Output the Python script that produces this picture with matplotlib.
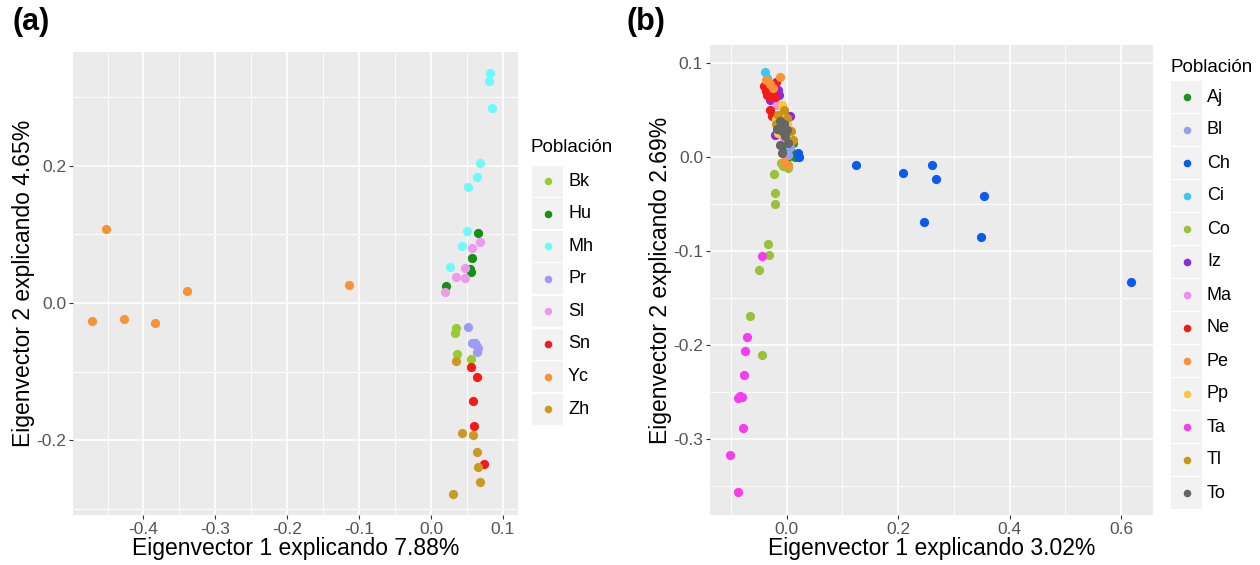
import numpy as np
import matplotlib.pyplot as plt
from matplotlib.patches import Rectangle
from matplotlib.ticker import MultipleLocator

plt.rcParams['font.family'] = ['Liberation Sans', 'DejaVu Sans']

# panel (a)
a_pops = ["Bk", "Hu", "Mh", "Pr", "Sl", "Sn", "Yc", "Zh"]
a_colors = ["#99CC33", "#168F16", "#6FFAFA", "#9C9CF7", "#EE99EE", "#F41A1A", "#FA9338", "#C99A24"]
a_x = [
    [0.035, 0.0328, 0.0356, 0.055],
    [0.0655, 0.0568, 0.054, 0.0558, 0.0212],
    [0.0827, 0.0803, 0.0849, 0.0675, 0.0633, 0.0517, 0.0499, 0.0425, 0.0259],
    [0.0517, 0.0568, 0.0605, 0.0627, 0.0651, 0.0641],
    [0.0688, 0.0568, 0.0467, 0.035, 0.0467, 0.0198],
    [0.0558, 0.0633, 0.0582, 0.0596, 0.0744],
    [-0.4515, -0.339, -0.471, -0.4266, -0.3837, -0.1136],
    [0.0346, 0.0434, 0.0582, 0.0633, 0.0655, 0.0679, 0.0305],
]
a_y = [
    [-0.037, -0.044, -0.0745, -0.0818],
    [0.1026, 0.0657, 0.049, 0.0457, 0.0248],
    [0.335, 0.324, 0.285, 0.204, 0.1835, 0.169, 0.105, 0.083, 0.052],
    [-0.0355, -0.058, -0.0588, -0.0613, -0.0661, -0.0711],
    [0.0895, 0.0799, 0.0507, 0.0384, 0.036, 0.0156],
    [-0.0939, -0.1076, -0.1435, -0.1796, -0.234],
    [0.108, 0.0175, -0.026, -0.023, -0.029, 0.026],
    [-0.0847, -0.190, -0.1917, -0.2175, -0.2394, -0.261, -0.279],
]

# panel (b)
b_pops = ["Aj", "Bl", "Ch", "Ci", "Co", "Iz", "Ma", "Ne", "Pe", "Pp", "Ta", "Tl", "To"]
b_colors = ["#1A941A", "#9C9CF7", "#0A5AF0", "#3CC8F5", "#99C23A", "#8A2BE2", "#F08CF0",
            "#F41A1A", "#FA9338", "#FAC83C", "#F53CF0", "#C99614", "#666666"]
b_x = [
    [0.012, 0.0, 0.015, -0.005, 0.008],
    [0.003, -0.01, 0.005],
    [0.124, 0.208, 0.261, 0.268, 0.3545, 0.247, 0.3485, 0.617, 0.021, 0.022],
    [-0.039, -0.035],
    [-0.022, -0.0215, -0.0204, -0.0335, -0.0312, -0.0491, -0.0658, -0.0437, -0.006, -0.010, 0.002],
    [-0.015, -0.013, 0.005, -0.021, -0.03],
    [-0.018, -0.025, -0.005],
    [-0.041, -0.033, -0.027, -0.024, -0.036, -0.030, -0.021, -0.030, -0.027, -0.038, -0.02, -0.015],
    [-0.012, -0.037, -0.025, 0.003, -0.005, -0.03],
    [-0.009, -0.015, -0.02, 0.0],
    [-0.0448, -0.0707, -0.0753, -0.0766, -0.0796, -0.0873, -0.0789, -0.1017, -0.0874, -0.083],
    [-0.015, 0.0, 0.012, -0.005, -0.02, 0.008],
    [-0.012, -0.006, -0.018, -0.009, 0.0, -0.003, -0.012, -0.009, -0.005, 0.003],
]
b_y = [
    [0.015, -0.001, 0.0, 0.01, 0.005],
    [0.002, 0.03, 0.01],
    [-0.0085, -0.0174, -0.0089, -0.0231, -0.0418, -0.0688, -0.0848, -0.1333, 0.004, 0.0],
    [0.090, 0.084],
    [-0.018, -0.038, -0.0497, -0.0926, -0.1046, -0.1205, -0.1688, -0.2103, -0.0093, -0.006, -0.012],
    [0.071, 0.066, 0.044, 0.023, 0.06],
    [0.055, 0.045, 0.02],
    [0.075, 0.073, 0.075, 0.0695, 0.066, 0.064, 0.064, 0.05, 0.043, 0.07, 0.08, 0.035],
    [0.085, 0.082, 0.073, -0.009, -0.005, 0.078],
    [0.055, 0.025, 0.04, 0.035],
    [-0.1053, -0.1918, -0.2064, -0.2316, -0.2556, -0.2564, -0.2883, -0.317, -0.357, -0.254],
    [0.045, 0.041, 0.018, 0.05, 0.035, 0.028],
    [0.038, 0.032, 0.030, 0.027, 0.029, 0.022, 0.013, 0.004, 0.035, 0.015],
]

W, H = 1260, 565
fig = plt.figure(figsize=(W / 100, H / 100), dpi=100)


def px_rect(l, t, r, b):
    return [l / W, (H - b) / H, (r - l) / W, (b - t) / H]


def style(ax, xmaj, ymaj):
    ax.set_facecolor("#EBEBEB")
    for s in ax.spines.values():
        s.set_visible(False)
    ax.xaxis.set_major_locator(MultipleLocator(xmaj))
    ax.yaxis.set_major_locator(MultipleLocator(ymaj))
    ax.xaxis.set_minor_locator(MultipleLocator(xmaj / 2))
    ax.yaxis.set_minor_locator(MultipleLocator(ymaj / 2))
    ax.grid(which="major", color="white", lw=1.2)
    ax.grid(which="minor", color="white", lw=0.6)
    ax.set_axisbelow(True)
    ax.tick_params(which="major", length=3, color="#333333", labelcolor="#555555",
                   labelsize=12.5, pad=2)
    ax.tick_params(which="minor", length=0)


ax1 = fig.add_axes(px_rect(73, 52, 518, 515))
for xs, ys, c in zip(a_x, a_y, a_colors):
    ax1.scatter(xs, ys, s=44, color=c, linewidths=0, zorder=3)
style(ax1, 0.1, 0.2)
ax1.set_xlim(-0.498, 0.121)
ax1.set_ylim(-0.309, 0.366)
ax1.set_xticks([-0.4, -0.3, -0.2, -0.1, 0.0, 0.1])
ax1.set_xticklabels(["-0.4", "-0.3", "-0.2", "-0.1", "0.0", "0.1"])
ax1.set_yticks([-0.2, 0.0, 0.2])
ax1.set_yticklabels(["-0.2", "0.0", "0.2"])
ax1.set_xlabel("Eigenvector 1 explicando 7.88%", fontsize=16.5, labelpad=0)
ax1.set_ylabel("Eigenvector 2 explicando 4.65%", fontsize=16.5, labelpad=1)

ax2 = fig.add_axes(px_rect(710, 45, 1153, 515))
for xs, ys, c in zip(b_x, b_y, b_colors):
    ax2.scatter(xs, ys, s=44, color=c, linewidths=0, zorder=3)
style(ax2, 0.2, 0.1)
ax2.set_xlim(-0.1376, 0.657)
ax2.set_ylim(-0.381, 0.119)
ax2.set_xticks([0.0, 0.2, 0.4, 0.6])
ax2.set_xticklabels(["0.0", "0.2", "0.4", "0.6"])
ax2.set_yticks([-0.3, -0.2, -0.1, 0.0, 0.1])
ax2.set_yticklabels(["-0.3", "-0.2", "-0.1", "0.0", "0.1"])
ax2.set_xlabel("Eigenvector 1 explicando 3.02%", fontsize=16.5, labelpad=0)
ax2.set_ylabel("Eigenvector 2 explicando 2.69%", fontsize=16.5, labelpad=1)

# overlay in pixel coords for legends and panel labels
ov = fig.add_axes([0, 0, 1, 1])
ov.set_xlim(0, W)
ov.set_ylim(H, 0)
ov.axis("off")


def legend(x0, title_y, first_y, step, names, colors):
    ov.text(x0, title_y, "Población", fontsize=13.5, va="center", ha="left")
    for i, (n, c) in enumerate(zip(names, colors)):
        cy = first_y + i * step
        ov.add_patch(Rectangle((x0 + 1, cy - step / 2 + 0.8), 31, step - 1.6,
                               facecolor="#F2F2F2", edgecolor="none"))
        ov.scatter([x0 + 16.5], [cy], s=30, color=c, linewidths=0)
        ov.text(x0 + 37, cy, n, fontsize=13, va="center", ha="left")


legend(531, 148, 181, 32.6, a_pops, a_colors)
legend(1170, 68, 97, 33, b_pops, b_colors)

ov.text(12, 22, "(a)", fontsize=22, fontweight="bold", va="center", ha="left")
ov.text(627, 22, "(b)", fontsize=22, fontweight="bold", va="center", ha="left")

fig.savefig("out.png", dpi=100)
